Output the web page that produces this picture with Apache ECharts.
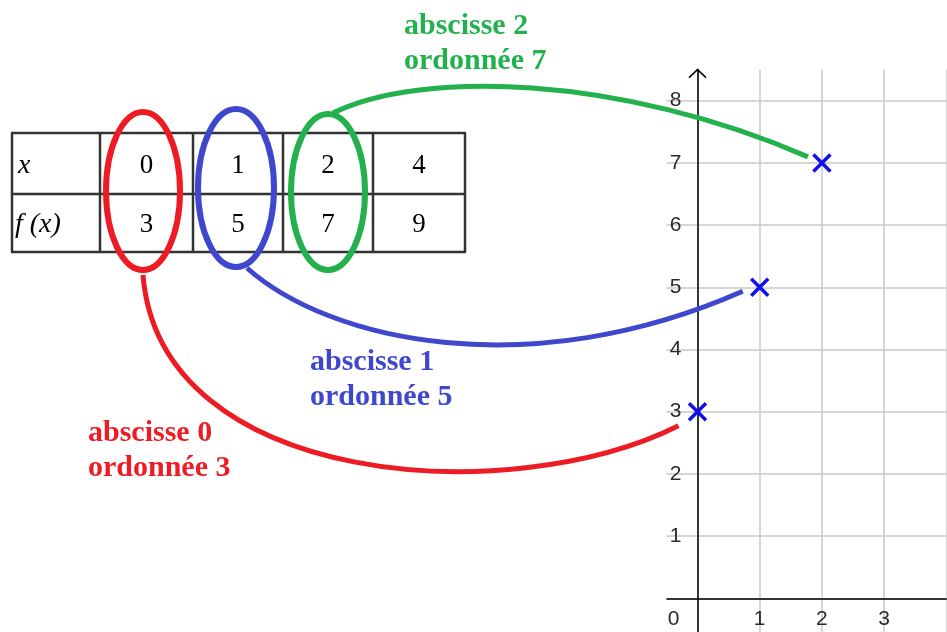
<!DOCTYPE html>
<html><head><meta charset="utf-8">
<script src="https://cdn.jsdelivr.net/npm/echarts@6/dist/echarts.min.js"></script>
<style>html,body{margin:0;padding:0;background:#fff}#c{width:947px;height:632px}</style>
</head><body><div id="c"></div>
<script>
// ---- data ----
const xValues = [0, 1, 2, 4];
const fValues = [3, 5, 7, 9];
const rowHeaders = ['x', 'f (x)'];
const plottedCount = 3;
const xTickLabels = [0, 1, 2, 3];
const yTickLabels = [1, 2, 3, 4, 5, 6, 7, 8];
const highlightColors = ['#ed1c24', '#3f48cc', '#22b14c'];

const points = xValues.slice(0, plottedCount).map((x, i) => [x, fValues[i]]);

const chart = echarts.init(document.getElementById('c'), null, { renderer: 'canvas' });

const labelFont = { fontFamily: 'Liberation Sans', fontSize: 21, color: '#2a2a2a' };
const U = 62.2;           // pixels per unit
const X0 = 697.5, Y0 = 598.3; // origin position
const YMAX = 8.5;

chart.setOption({
  animation: false,
  backgroundColor: '#fff',
  grid: [
    // extended grid: split lines + axis lines through the origin
    { left: X0 - U, top: Y0 - YMAX * U, width: 5 * U, height: (YMAX + 1) * U, outerBoundsMode: 'none', containLabel: false },
    // origin grid: tick labels
    { left: X0, top: Y0 - YMAX * U, width: 4 * U, height: YMAX * U, outerBoundsMode: 'none', containLabel: false }
  ],
  xAxis: [{
    gridIndex: 0, type: 'value', min: -1, max: 4, interval: 1,
    axisLine: { onZero: true, lineStyle: { color: '#000', width: 1.5 } },
    axisTick: { show: false }, axisLabel: { show: false },
    splitLine: { show: true, lineStyle: { color: '#c8c8c8', width: 1.5 } }
  }, {
    gridIndex: 1, type: 'value', min: 0, max: 4, interval: 1,
    axisLine: { show: false }, axisTick: { show: false }, splitLine: { show: false },
    axisLabel: Object.assign({
      margin: 10,
      formatter: v => v === 0 ? '{o|0}' : (xTickLabels.includes(v) ? String(v) : ''),
      rich: { o: Object.assign({ padding: [0, 48, 0, 0] }, labelFont) }
    }, labelFont)
  }],
  yAxis: [{
    gridIndex: 0, type: 'value', min: -1, max: YMAX, interval: 1,
    axisLine: { onZero: true, lineStyle: { color: '#000', width: 1.5 } },
    axisTick: { show: false }, axisLabel: { show: false },
    splitLine: { show: true, showMaxLine: false, lineStyle: { color: '#c8c8c8', width: 1.5 } }
  }, {
    gridIndex: 1, type: 'value', min: 0, max: YMAX, interval: 1,
    axisLine: { show: false }, axisTick: { show: false }, splitLine: { show: false },
    axisLabel: Object.assign({
      margin: 16,
      showMaxLabel: false,
      formatter: v => yTickLabels.includes(v) ? String(v) : ''
    }, labelFont)
  }],
  series: [{
    type: 'scatter',
    xAxisIndex: 1, yAxisIndex: 1,
    data: points,
    symbol: 'path://M0,0L10,10M10,0L0,10',
    symbolSize: 17,
    itemStyle: { color: '#1010ee', borderColor: '#1010ee', borderWidth: 3.5, opacity: 1 },
    z: 20
  }]
});

// ---- annotation graphics ----
const toPx = p => chart.convertToPixel({ gridIndex: 0 }, p);
const px = points.map(toPx);
const axisTop = toPx([0, YMAX]);
const gridLeftCut = toPx([-0.5, 0]);

const colEdges = [12, 100, 193, 283, 373, 465];
const rowEdges = [133, 194, 252];
const g = [];

// hide the grid part left of x = -0.5
g.push({ type: 'rect', z: 1, shape: { x: 590, y: 50, width: gridLeftCut[0] - 590, height: 600 }, style: { fill: '#fff' } });
// y-axis arrow
g.push({ type: 'polyline', z: 3, shape: { points: [[axisTop[0] - 8.5, axisTop[1] + 8], [axisTop[0], axisTop[1]], [axisTop[0] + 8.5, axisTop[1] + 8]] },
  style: { stroke: '#000', lineWidth: 1.5, fill: null } });

// table lines
rowEdges.forEach(y => g.push({ type: 'line', z: 5, shape: { x1: colEdges[0] - 1, y1: y, x2: colEdges[colEdges.length - 1] + 1, y2: y },
  style: { stroke: '#333', lineWidth: 2.5 } }));
colEdges.forEach(x => g.push({ type: 'line', z: 5, shape: { x1: x, y1: rowEdges[0], x2: x, y2: rowEdges[rowEdges.length - 1] },
  style: { stroke: '#333', lineWidth: 2.5 } }));

// table text
const rowVals = [xValues, fValues];
rowHeaders.forEach((h, r) => {
  const cy = (rowEdges[r] + rowEdges[r + 1]) / 2;
  g.push({ type: 'text', z: 6, x: colEdges[0] + (r === 0 ? 6 : 3), y: cy + 2,
    style: { text: h, font: 'italic 28px "Liberation Serif"', fill: '#000', verticalAlign: 'middle', align: 'left' } });
  rowVals[r].forEach((v, c) => {
    const cx = (colEdges[c + 1] + colEdges[c + 2]) / 2;
    g.push({ type: 'text', z: 6, x: cx, y: cy + 2,
      style: { text: String(v), font: '27px "Liberation Serif"', fill: '#000', verticalAlign: 'middle', align: 'center' } });
  });
});

// ellipses around highlighted columns
const ellipses = [
  { cx: 143, cy: 191, rx: 37, ry: 79 },
  { cx: 236, cy: 188, rx: 38, ry: 79 },
  { cx: 328, cy: 192, rx: 37, ry: 78 }
];
ellipses.forEach((e, i) => g.push({ type: 'ellipse', z: 8, shape: e,
  style: { stroke: highlightColors[i], lineWidth: 6, fill: null } }));

// connecting curves (start near the ellipse, end near the plotted point)
const curves = [
  { s: [143, 275], c1: [160, 488], c2: [510, 510], endOff: [-19, 14] },
  { s: [247, 268], c1: [330, 342], c2: [530, 385], endOff: [-17, 4] },
  { s: [333, 113], c1: [420, 70], c2: [620, 75], endOff: [-14, -6] }
];
curves.forEach((cv, i) => {
  const e = [px[i][0] + cv.endOff[0], px[i][1] + cv.endOff[1]];
  g.push({ type: 'bezierCurve', z: 10,
    shape: { x1: cv.s[0], y1: cv.s[1], cpx1: cv.c1[0], cpy1: cv.c1[1], cpx2: cv.c2[0], cpy2: cv.c2[1], x2: e[0], y2: e[1] },
    style: { stroke: highlightColors[i], lineWidth: 5, fill: null } });
});

// annotation texts
const textPos = [[88, 415.5], [310, 344.5], [404, 8.5]];
points.forEach((p, i) => g.push({ type: 'text', z: 12, x: textPos[i][0], y: textPos[i][1],
  style: { text: 'abscisse ' + p[0] + '\nordonnée ' + p[1], font: 'bold 30px "Liberation Serif"',
    fill: highlightColors[i], lineHeight: 35, verticalAlign: 'top', align: 'left' } }));

chart.setOption({ graphic: { elements: g } });
</script></body></html>
